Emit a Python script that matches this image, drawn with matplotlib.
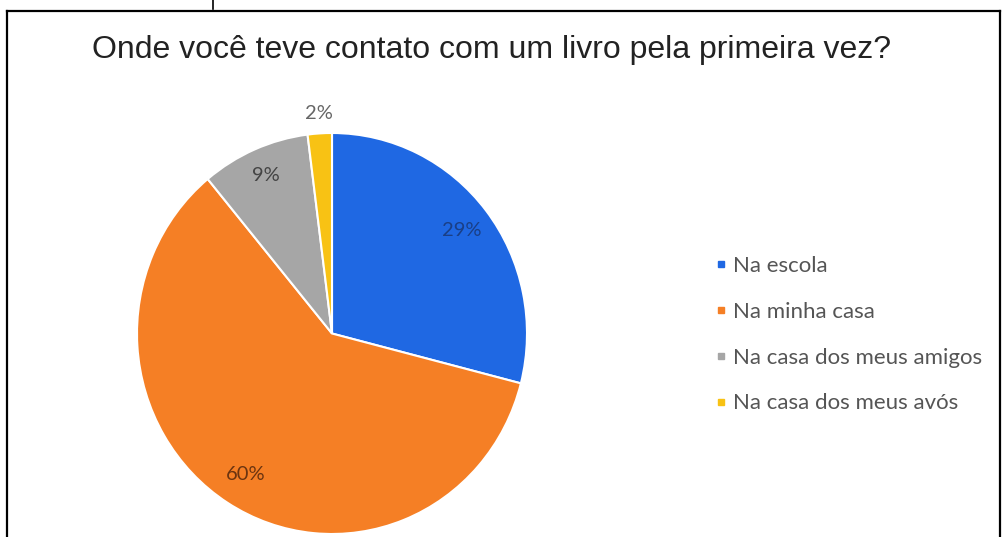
import numpy as np
import matplotlib.pyplot as plt
from matplotlib.lines import Line2D

# Survey answers
categories = ["Na escola", "Na minha casa", "Na casa dos meus amigos", "Na casa dos meus avós"]
shares = [29, 60, 9, 2]
colors = ["#1f68e3", "#f57f25", "#a6a6a6", "#f8c214"]
label_colors = ["#1a3f86", "#6b3410", "#444444", "#666666"]
label_dist = [0.84, 0.83, 0.86, 1.10]

fig = plt.figure(figsize=(10.06, 5.37), dpi=100)
fig.patch.set_facecolor("white")

# frame around the chart
W, H = 1006, 537
def fx(px): return px / W
def fy(py): return 1 - py / H
fig.add_artist(Line2D([fx(7), fx(1000)], [fy(11), fy(11)], color="black", lw=1.6))
fig.add_artist(Line2D([fx(7), fx(7)], [fy(11), 0], color="black", lw=1.6))
fig.add_artist(Line2D([fx(1000), fx(1000)], [fy(11), 0], color="black", lw=1.6))
fig.add_artist(Line2D([fx(213), fx(213)], [1, fy(9)], color="black", lw=1.2))

fig.text(fx(492), fy(50), "Onde você teve contato com um livro pela primeira vez?",
         ha="center", va="center", fontsize=23, family="Liberation Sans", color="#222222")

# pie axes, centre near (332, 333) px
cx, cy, rx, ry = 332, 333.5, 195, 200.5
ax = fig.add_axes([fx(cx - rx), fy(cy + ry), 2 * rx / W, 2 * ry / H])
wedges, _ = ax.pie(shares, colors=colors, startangle=90, counterclock=False,
                   wedgeprops=dict(edgecolor="white", linewidth=1.5))
ax.set_aspect("auto")
ax.set_xlim(-1, 1)
ax.set_ylim(-1, 1)
ax.axis("off")

for w, v, c, d in zip(wedges, shares, label_colors, label_dist):
    ang = np.deg2rad((w.theta1 + w.theta2) / 2)
    ax.text(d * np.cos(ang), d * np.sin(ang), f"{v}%", ha="center", va="center",
            fontsize=14.5, family="Lato", color=c)

handles = [Line2D([], [], marker="s", ls="", color=c, markersize=4.5) for c in colors]
leg = fig.legend(handles, categories, loc="upper left", bbox_to_anchor=(fx(704), fy(245)),
                 frameon=False, prop=dict(family="Lato", size=16), labelspacing=1.16,
                 handlelength=0.5, handletextpad=0.3, borderpad=0)
for t in leg.get_texts():
    t.set_color("#555555")

fig.savefig("out.png", dpi=100, facecolor="white")
